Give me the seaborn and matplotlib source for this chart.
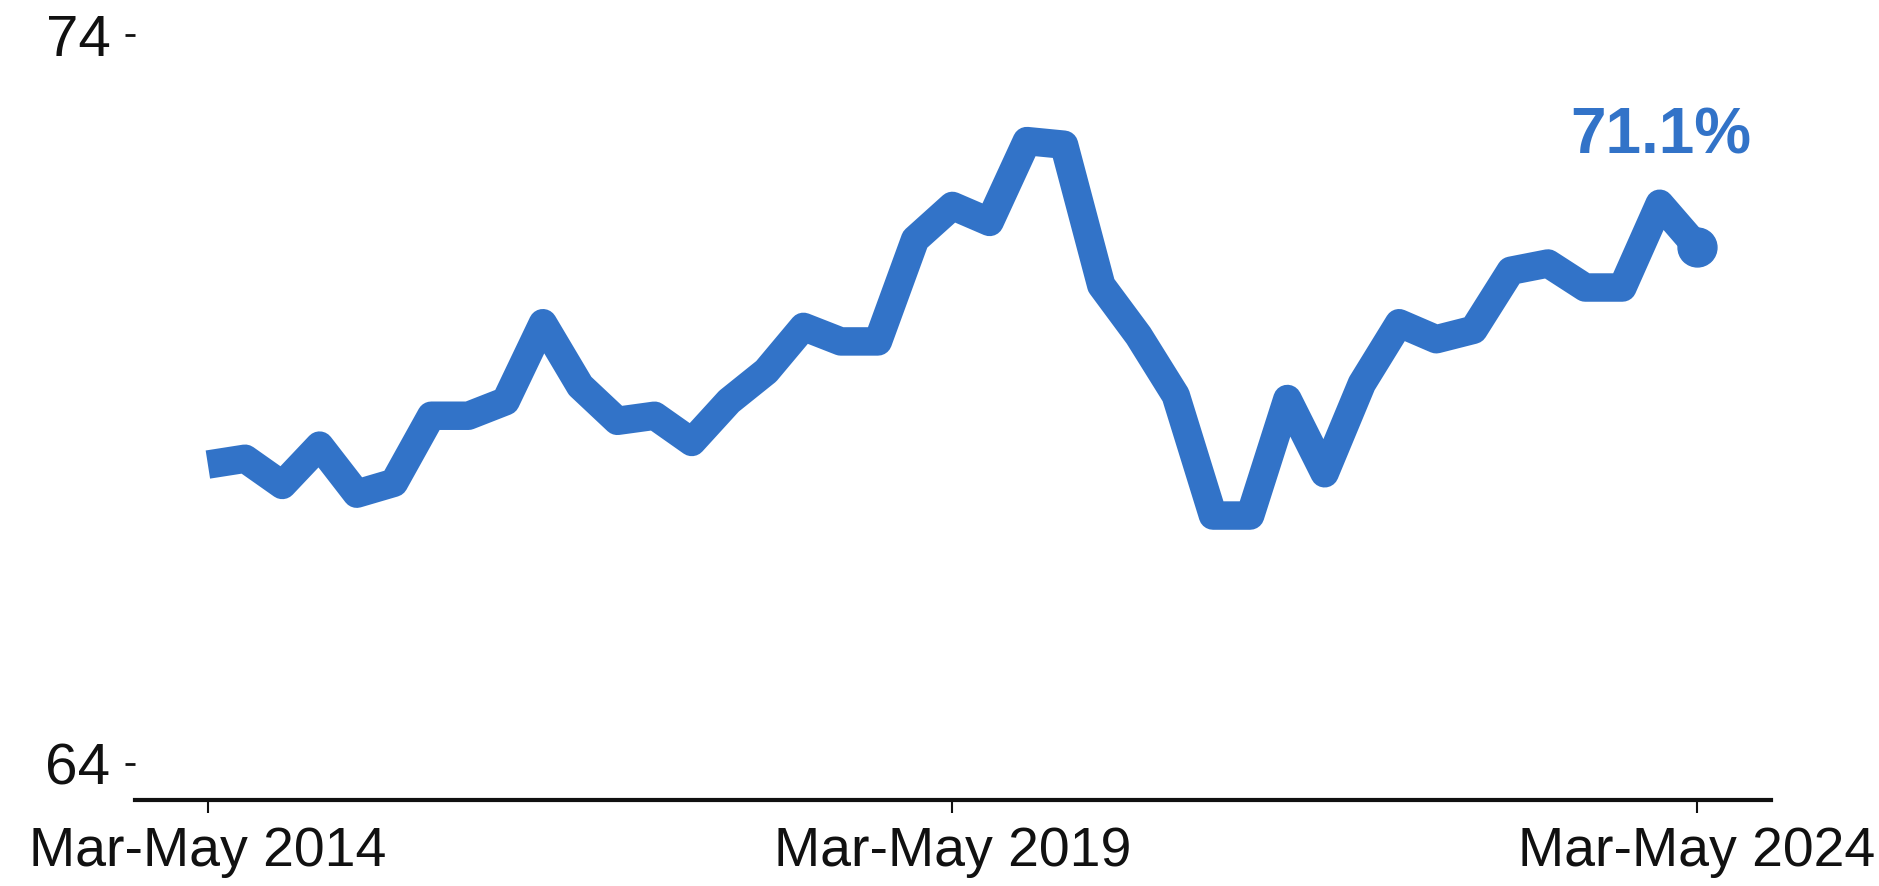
import pandas as pd
import matplotlib
matplotlib.use("Agg")
import matplotlib.pyplot as plt
import seaborn as sns

# rolling quarters, Mar-May 2014 .. Mar-May 2024
months = ["Mar-May", "Jun-Aug", "Sep-Nov", "Dec-Feb"]
periods = []
for year in range(2014, 2025):
    for k, m in enumerate(months):
        yr = year + 1 if k == 3 else year
        periods.append(f"{m} {yr}")
periods = periods[:41]

rate = [68.11, 68.19, 67.83, 68.37, 67.71, 67.86, 68.78, 68.78, 68.98, 70.05,
        69.19, 68.71, 68.78, 68.42, 68.98, 69.39, 70.00, 69.80, 69.80, 71.20,
        71.66, 71.44, 72.55, 72.50, 70.57, 69.88, 69.06, 67.41, 67.41, 69.01,
        67.99, 69.22, 70.05, 69.83, 69.96, 70.77, 70.87, 70.54, 70.54, 71.69,
        71.10]

tick_pos = [0, 20, 40]
y_ticks = [64, 74]
blue = "#3273C8"

df = pd.DataFrame({"idx": range(len(rate)), "period": periods, "rate": rate})

sns.set_style("white")
plt.rcParams["font.family"] = ["Liberation Sans", "DejaVu Sans"]

fig = plt.figure(figsize=(18.79, 8.86), dpi=100)
ax = fig.add_axes([0.0718, 0.0971, 0.8707, 0.8629])

sns.lineplot(data=df, x="idx", y="rate", color=blue, linewidth=20.5, ax=ax,
             solid_joinstyle="round", solid_capstyle="butt")
ax.plot(df["idx"].iloc[-1], df["rate"].iloc[-1], "o", color=blue, markersize=28)

# label for the latest value
ax.annotate(f"{rate[-1]:.1f}%", xy=(df["idx"].iloc[-1], rate[-1]),
            xytext=(-36, 110), textcoords="offset pixels",
            ha="center", va="center", color=blue, fontsize=46, fontweight="bold")

ax.set_xlim(-1.96, 41.99)
ax.set_ylim(63.506, 74.0)
ax.set_xticks(tick_pos)
ax.set_xticklabels([periods[i] for i in tick_pos])
ax.set_yticks(y_ticks)
ax.set_xlabel("")
ax.set_ylabel("")

for side in ["top", "right", "left"]:
    ax.spines[side].set_visible(False)
ax.spines["bottom"].set_linewidth(3)
ax.spines["bottom"].set_color("#111111")

ax.tick_params(axis="x", bottom=True, length=9.5, width=1.5, pad=9, labelsize=40, colors="#111111")
ax.tick_params(axis="y", left=True, length=7.5, width=2, pad=10, labelsize=42, colors="#111111")

fig.savefig("out.png", dpi=100)
